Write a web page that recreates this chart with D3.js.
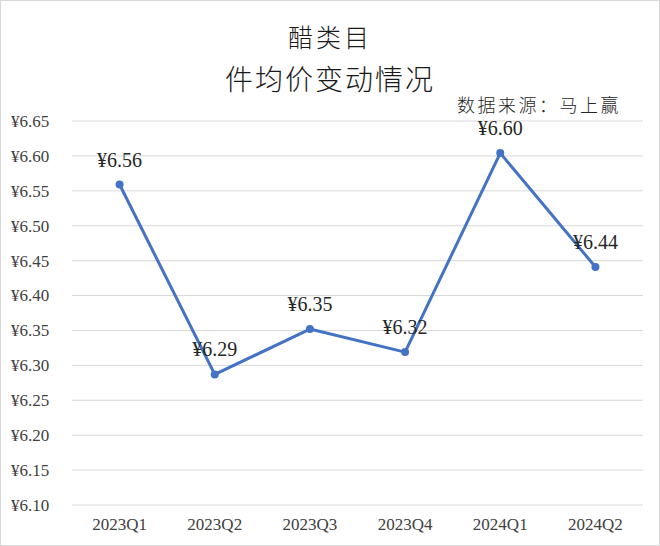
<!DOCTYPE html>
<html>
<head>
<meta charset="utf-8">
<script src="https://cdn.jsdelivr.net/npm/d3@7"></script>
<style>
  html, body { margin: 0; padding: 0; background: #fff; }
  svg { display: block; }
</style>
</head>
<body>
<div id="chart"></div>
<script>
// Data
const quarters = ['2023Q1', '2023Q2', '2023Q3', '2023Q4', '2024Q1', '2024Q2'];
const avgPrice = [6.559, 6.287, 6.352, 6.319, 6.604, 6.441];
const yTicks = [6.10, 6.15, 6.20, 6.25, 6.30, 6.35, 6.40, 6.45, 6.50, 6.55, 6.60, 6.65];
const titleLines = ['醋类目', '件均价变动情况'];
const sourceNote = '数据来源：马上赢';

const width = 660;
const height = 546;
const margin = { top: 121, right: 17, bottom: 41, left: 72 };

const serif = '"Liberation Serif", "Times New Roman", serif';
const cjk = '"Noto Sans CJK SC", sans-serif';

const svg = d3.select('#chart')
  .append('svg')
  .attr('width', width)
  .attr('height', height);

// chart frame
svg.append('rect')
  .attr('x', 0.5).attr('y', 0.5)
  .attr('width', width - 1).attr('height', height - 1)
  .attr('fill', '#fff')
  .attr('stroke', '#d9d9d9');

const x = d3.scaleBand()
  .domain(quarters)
  .range([margin.left, width - margin.right]);

const y = d3.scaleLinear()
  .domain([6.10, 6.65])
  .range([height - margin.bottom, margin.top]);

const fmt = d => '¥' + d3.format('.2f')(d);

// gridlines
svg.append('g')
  .selectAll('line')
  .data(yTicks)
  .join('line')
  .attr('x1', margin.left)
  .attr('x2', width - margin.right)
  .attr('y1', d => y(d))
  .attr('y2', d => y(d))
  .attr('stroke', '#d9d9d9')
  .attr('stroke-width', 1);

// y axis labels (left aligned like the original)
const yAxis = svg.append('g')
  .attr('transform', 'translate(11,0)')
  .call(d3.axisLeft(y).tickValues(yTicks).tickFormat(fmt).tickSize(0).tickPadding(0));
yAxis.select('.domain').remove();
yAxis.attr('font-family', null).attr('font-size', null);
yAxis.selectAll('text')
  .attr('text-anchor', 'start')
  .style('font-family', serif)
  .style('font-size', '17px')
  .attr('fill', '#404040');

// x axis labels
const xAxis = svg.append('g')
  .attr('transform', `translate(0,${height - margin.bottom})`)
  .call(d3.axisBottom(x).tickSize(0).tickPadding(13));
xAxis.select('.domain').remove();
xAxis.attr('font-family', null).attr('font-size', null);
xAxis.selectAll('text')
  .style('font-family', serif)
  .style('font-size', '17px')
  .attr('fill', '#404040');

const cx = (d, i) => x(quarters[i]) + x.bandwidth() / 2;

// line
const line = d3.line()
  .x((d, i) => cx(d, i))
  .y(d => y(d));

svg.append('path')
  .datum(avgPrice)
  .attr('d', line)
  .attr('fill', 'none')
  .attr('stroke', '#4472C4')
  .attr('stroke-width', 3)
  .attr('stroke-linejoin', 'round');

// markers
svg.append('g')
  .selectAll('circle')
  .data(avgPrice)
  .join('circle')
  .attr('cx', cx)
  .attr('cy', d => y(d))
  .attr('r', 4)
  .attr('fill', '#4472C4');

// value labels
svg.append('g')
  .selectAll('text')
  .data(avgPrice)
  .join('text')
  .attr('x', cx)
  .attr('y', d => y(d) - 18)
  .attr('text-anchor', 'middle')
  .style('font-family', serif)
  .style('font-size', '20px')
  .attr('fill', '#262626')
  .text(fmt);

// title
svg.append('g')
  .selectAll('text')
  .data(titleLines)
  .join('text')
  .attr('x', width / 2)
  .attr('y', (d, i) => i === 0 ? 47 : 90)
  .attr('text-anchor', 'middle')
  .style('font-family', cjk)
  .style('font-weight', 300)
  .style('font-size', (d, i) => i === 0 ? '25px' : '28px')
  .attr('letter-spacing', (d, i) => i === 0 ? 3 : 2)
  .attr('fill', '#1a1a1a')
  .text(d => d);

// source note
svg.append('text')
  .attr('x', 621)
  .attr('y', 112)
  .attr('text-anchor', 'end')
  .style('font-family', cjk)
  .style('font-weight', 300)
  .style('font-size', '18px')
  .attr('letter-spacing', 2.5)
  .attr('fill', '#262626')
  .text(sourceNote);
</script>
</body>
</html>
